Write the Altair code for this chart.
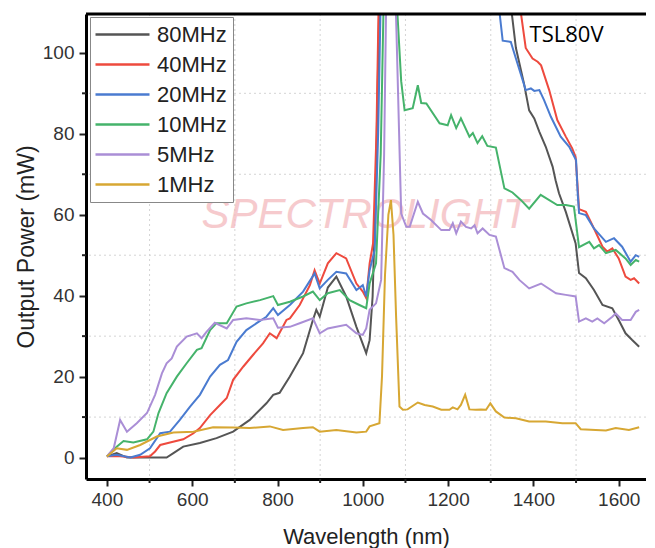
import altair as alt
import pandas as pd

series = ["80MHz", "40MHz", "20MHz", "10MHz", "5MHz", "1MHz"]
colors = ["#555555", "#ee4a3e", "#4a7bd0", "#45b36b", "#aa8ed6", "#d7a733"]

wl_80 = [400, 423, 447, 500, 540, 556, 579, 618, 657, 696, 735, 774, 790, 805, 829, 860, 883, 891, 899, 918, 938, 961, 985, 1008, 1016, 1023, 1030, 1040, 1050, 1200, 1330, 1340, 1359, 1378, 1390, 1402, 1414, 1429, 1445, 1452, 1460, 1476, 1499, 1507, 1523, 1542, 1562, 1585, 1600, 1616, 1631, 1648]
pw_80 = [0.3, 1.1, 0.0, 0.0, 0.0, 1.1, 2.7, 3.6, 4.8, 6.4, 9.3, 13.4, 15.5, 16.0, 20.0, 25.8, 34.0, 36.5, 34.8, 42.0, 44.7, 39.8, 32.3, 25.8, 29.0, 39.8, 65.0, 120, 150, 150, 150, 118, 101.2, 92.4, 85.8, 83.8, 80.5, 76.8, 71.9, 68.5, 65.3, 60.7, 52.9, 45.6, 44.3, 41.4, 37.7, 36.9, 34.0, 30.7, 29.1, 27.4]

wl_40 = [400, 431, 462, 501, 513, 525, 548, 579, 603, 618, 642, 665, 681, 696, 720, 743, 766, 782, 798, 821, 829, 852, 876, 887, 899, 918, 938, 961, 985, 1000, 1008, 1016, 1024, 1032, 1040, 1050, 1200, 1352, 1360, 1382, 1398, 1410, 1418, 1437, 1456, 1476, 1491, 1499, 1503, 1507, 1523, 1542, 1562, 1573, 1585, 1600, 1616, 1628, 1636, 1648]
pw_40 = [0.3, 0.3, 0.0, 0.3, 1.5, 3.1, 3.7, 4.5, 6.0, 7.3, 10.5, 13.0, 14.7, 19.2, 22.5, 25.4, 28.2, 30.7, 29.5, 34.0, 34.4, 37.7, 42.6, 46.3, 43.0, 48.0, 50.5, 49.2, 43.0, 41.0, 39.4, 48.0, 52.9, 80, 130, 150, 150, 150, 118, 101.2, 98.6, 97.8, 96.9, 90.8, 83.4, 79.3, 76.4, 74.3, 68.0, 61.4, 60.7, 56.6, 52.1, 50.9, 51.7, 49.2, 44.7, 43.9, 44.3, 43.0]

wl_20 = [400, 423, 455, 478, 501, 525, 548, 571, 595, 618, 642, 665, 684, 704, 727, 751, 774, 790, 801, 829, 860, 887, 899, 918, 938, 961, 985, 1000, 1008, 1016, 1028, 1036, 1045, 1055, 1200, 1305, 1312, 1328, 1347, 1359, 1382, 1394, 1402, 1414, 1425, 1441, 1464, 1484, 1500, 1504, 1507, 1523, 1542, 1570, 1589, 1608, 1628, 1640, 1648]
pw_20 = [0.3, 0.7, 0.0, 0.7, 2.3, 6.0, 6.4, 9.3, 12.6, 15.5, 20.0, 22.9, 24.1, 28.6, 31.5, 33.2, 34.8, 36.9, 35.2, 37.7, 41.0, 45.5, 41.8, 43.9, 45.9, 45.5, 41.4, 42.6, 39.8, 46.3, 51.3, 80, 130, 150, 150, 150, 118, 103.0, 102.7, 98.6, 90.8, 91.2, 90.6, 90.8, 88.3, 84.2, 79.3, 76.8, 73.5, 65.0, 60.4, 59.9, 56.6, 53.3, 54.2, 52.1, 48.4, 50.0, 49.6]

wl_10 = [400, 423, 439, 462, 494, 509, 521, 540, 564, 587, 611, 622, 642, 657, 681, 704, 727, 759, 790, 801, 829, 860, 883, 899, 918, 946, 969, 992, 1008, 1016, 1031, 1042, 1052, 1075, 1081, 1090, 1098, 1117, 1129, 1137, 1149, 1180, 1199, 1207, 1219, 1230, 1250, 1258, 1269, 1280, 1292, 1312, 1332, 1351, 1371, 1390, 1417, 1456, 1476, 1495, 1507, 1531, 1542, 1554, 1570, 1593, 1616, 1628, 1640, 1648]
pw_10 = [0.3, 2.7, 4.1, 3.7, 4.5, 6.4, 11.0, 15.9, 20.0, 23.3, 26.6, 27.0, 31.5, 33.2, 33.2, 37.3, 38.1, 38.9, 39.9, 37.7, 38.5, 39.8, 41.0, 38.9, 40.6, 41.4, 38.9, 37.7, 36.9, 43.0, 48.0, 75, 130, 130, 110, 93.0, 85.8, 86.3, 92.0, 87.6, 87.5, 82.6, 82.1, 84.6, 81.4, 83.8, 79.3, 80.2, 77.7, 79.4, 77.0, 76.6, 66.5, 65.5, 63.6, 61.5, 64.9, 62.4, 62.4, 62.0, 52.0, 53.3, 51.7, 52.5, 50.5, 51.3, 49.2, 47.6, 48.8, 48.4]

wl_5 = [400, 416, 431, 447, 470, 494, 513, 529, 540, 552, 564, 587, 611, 622, 634, 653, 681, 696, 727, 759, 790, 801, 829, 852, 883, 899, 918, 938, 961, 985, 1000, 1008, 1016, 1031, 1043, 1050, 1057, 1072, 1079, 1090, 1102, 1110, 1129, 1141, 1160, 1184, 1203, 1211, 1219, 1230, 1242, 1254, 1262, 1269, 1281, 1297, 1312, 1332, 1351, 1367, 1390, 1418, 1453, 1476, 1499, 1507, 1523, 1538, 1550, 1566, 1585, 1593, 1608, 1628, 1640, 1648]
pw_5 = [0.3, 2.3, 9.3, 6.4, 8.5, 11.0, 15.5, 20.8, 23.3, 24.5, 27.4, 29.9, 30.7, 29.5, 31.1, 33.3, 31.9, 34.0, 34.4, 34.0, 34.4, 32.1, 32.3, 33.2, 34.4, 30.7, 31.9, 32.3, 32.8, 30.7, 30.3, 31.9, 36.5, 38.1, 43.9, 75, 130, 130, 105, 60.3, 57.0, 57.0, 63.2, 60.3, 58.7, 56.2, 56.2, 57.9, 55.4, 58.3, 57.0, 56.6, 57.4, 55.4, 56.6, 55.0, 54.6, 46.8, 45.9, 43.9, 41.8, 43.0, 40.6, 40.2, 39.8, 33.6, 34.4, 33.6, 34.4, 33.2, 34.8, 35.6, 34.0, 34.0, 36.0, 36.5]

wl_1 = [400, 423, 447, 478, 517, 556, 603, 649, 696, 735, 782, 813, 860, 883, 899, 938, 985, 1008, 1016, 1039, 1045, 1052, 1060, 1066, 1072, 1078, 1086, 1094, 1105, 1129, 1145, 1164, 1184, 1203, 1211, 1222, 1230, 1240, 1250, 1265, 1277, 1289, 1299, 1312, 1332, 1359, 1390, 1429, 1468, 1499, 1511, 1546, 1570, 1593, 1624, 1648]
pw_1 = [0.25, 2.3, 1.9, 3.1, 5.2, 6.2, 6.4, 7.5, 7.4, 7.3, 7.7, 6.8, 7.3, 7.5, 6.4, 6.8, 6.2, 6.4, 7.7, 8.5, 20.0, 45.0, 60.0, 63.6, 55.0, 35.0, 12.6, 11.8, 11.9, 13.6, 13.0, 12.6, 11.8, 11.8, 12.4, 11.9, 13.0, 15.5, 11.9, 11.8, 11.9, 11.8, 13.4, 11.4, 9.9, 9.7, 8.9, 8.9, 8.5, 8.5, 7.0, 6.8, 6.7, 7.3, 6.8, 7.5]

x_major = [400, 600, 800, 1000, 1200, 1400, 1600]
x_minor = [500, 700, 900, 1100, 1300, 1500]
y_major = [0, 20, 40, 60, 80, 100]
y_minor = [10, 30, 50, 70, 90]
watermark = "SPECTROLIGHT"
model = "TSL80V"

all_wl = [wl_80, wl_40, wl_20, wl_10, wl_5, wl_1]
all_pw = [pw_80, pw_40, pw_20, pw_10, pw_5, pw_1]
rows = []
for s, ws, ps in zip(series, all_wl, all_pw):
    for i, (w, p) in enumerate(zip(ws, ps)):
        rows.append({"s": s, "wl": w, "p": p, "i": i})
df = pd.DataFrame(rows)

W, H = 560, 465
FONT = "Liberation Sans"

x_axis = alt.Axis(
    values=x_major, format="d",
    labelFont=FONT, labelFontSize=19, labelColor="#333333", labelPadding=4,
    labelOverlap=False, labelFlush=False,
    tickSize=7, tickColor="#222222", tickWidth=2,
    grid=False,
    domainColor="#000000", domainWidth=3,
    title="Wavelength (nm)", titleFont=FONT, titleFontSize=22, titleFontWeight="normal",
    titleColor="#222222", titleBaseline="alphabetic", titleY=64,
)
y_axis = alt.Axis(
    values=y_major, format="d",
    labelFont=FONT, labelFontSize=19, labelColor="#333333", labelPadding=5,
    labelOverlap=False, labelFlush=False,
    tickSize=7, tickColor="#222222", tickWidth=2,
    grid=False,
    domainColor="#000000", domainWidth=3,
    title="Output Power (mW)", titleFont=FONT, titleFontSize=23, titleFontWeight="normal",
    titleColor="#222222", titleBaseline="alphabetic", titleX=-53,
)

xs = alt.Scale(domain=[351, 1664], nice=False, zero=False)
ys = alt.Scale(domain=[-5.3, 109.6], nice=False, zero=False)

xgrid = alt.Chart(pd.DataFrame({"wl": x_minor})).mark_rule(
    color="#d4d4d4", strokeWidth=1, strokeDash=[2, 3]
).encode(x=alt.X("wl:Q", scale=xs, axis=x_axis))
ygrid = alt.Chart(pd.DataFrame({"p": y_minor})).mark_rule(
    color="#d4d4d4", strokeWidth=1, strokeDash=[2, 3]
).encode(y=alt.Y("p:Q", scale=ys, axis=y_axis))
xminor = alt.Chart(pd.DataFrame({"wl": x_minor})).mark_rule(
    color="#222222", strokeWidth=2
).encode(x=alt.X("wl:Q", scale=xs, axis=x_axis), y=alt.value(H), y2=alt.value(H + 4))
yminor = alt.Chart(pd.DataFrame({"p": y_minor})).mark_rule(
    color="#222222", strokeWidth=2
).encode(y=alt.Y("p:Q", scale=ys, axis=y_axis), x=alt.value(0), x2=alt.value(-4))

wm = alt.Chart(pd.DataFrame({"t": [watermark]})).mark_text(
    font=FONT, fontStyle="italic", fontSize=42, color="#f3b9bd", opacity=0.75
).encode(x=alt.datum(1005, scale=xs, axis=x_axis), y=alt.datum(60, axis=y_axis), text="t:N")

lines = alt.Chart(df).mark_line(strokeWidth=2, clip=True).encode(
    x=alt.X("wl:Q", scale=xs, axis=x_axis),
    y=alt.Y("p:Q", scale=ys, axis=y_axis),
    color=alt.Color("s:N", scale=alt.Scale(domain=series, range=colors),
                    legend=alt.Legend(
                        title=None, orient="none", legendX=4, legendY=3,
                        symbolType="M-2.7,0H2.7", symbolSize=400, symbolStrokeWidth=2.5,
                        symbolOffset=15, labelOffset=23, padding=6, rowPadding=7,
                        labelFont=FONT, labelFontSize=22, labelColor="#222222",
                        strokeColor="#888888", fillColor="white", cornerRadius=0,
                    )),
    order="i:Q",
)

txt = alt.Chart(pd.DataFrame({"t": [model]})).mark_text(
    font="Open Sans", fontSize=22, color="#000000", align="left", baseline="middle"
).encode(x=alt.datum(1391, axis=x_axis), y=alt.datum(104.5, axis=y_axis), text="t:N")

top = alt.Chart(pd.DataFrame({"a": [0]})).mark_rule(color="#000000", strokeWidth=3).encode(
    x=alt.value(0), x2=alt.value(W), y=alt.value(0)
)

chart = alt.layer(xgrid, ygrid, wm, lines, txt, xminor, yminor, top).properties(
    width=W, height=H,
    autosize=alt.AutoSizeParams(type="none"),
    padding={"left": 78, "top": 6, "right": 0, "bottom": 69},
    background="white",
).configure_view(stroke=None)

chart.save("out.html", embed_options={"renderer": "svg", "actions": False})
